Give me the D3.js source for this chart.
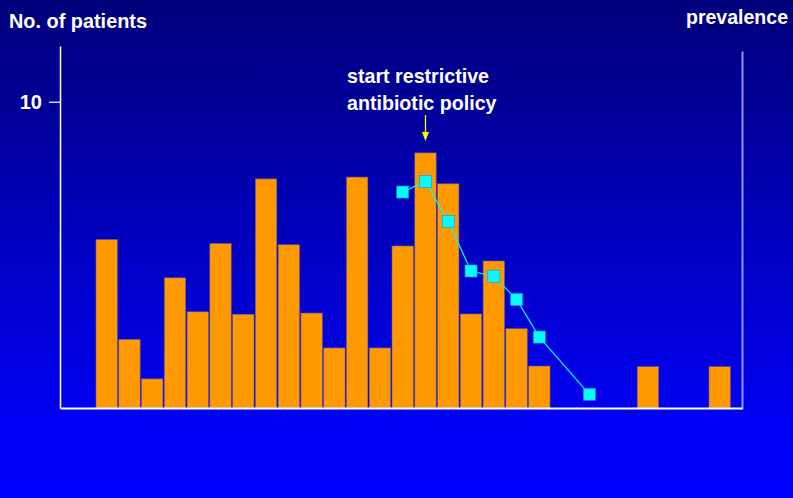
<!DOCTYPE html>
<html>
<head>
<meta charset="utf-8">
<script src="https://cdn.jsdelivr.net/npm/d3@7"></script>
<style>
  html, body { margin: 0; padding: 0; background: #0000ff; }
  svg { display: block; font-family: "Liberation Sans", Arial, sans-serif; font-weight: bold; }
</style>
</head>
<body>
<div id="chart"></div>
<script>
// bar periods (months) and patient counts
const barPeriods = [0, 1, 2, 3, 4, 5, 6, 7, 8, 9, 10, 11, 12, 13, 14, 15, 16, 17, 18, 19, 23.77, 26.92];
const patients = [5.5, 2.24, 0.95, 4.25, 3.14, 5.37, 3.06, 7.48, 5.33, 3.1, 1.96, 7.54, 1.96, 5.29, 8.33, 7.32, 3.07, 4.8, 2.59, 1.37, 1.35, 1.35];

// prevalence line
const prevPeriods = [13, 14, 15, 16, 17, 18, 19, 21.2];
const prevalence = [7.09, 7.44, 6.13, 4.51, 4.34, 3.58, 2.35, 0.48];

const yTicks = [10];
const policyPeriod = 14;

const W = 793, H = 498;
const svg = d3.select("#chart").append("svg")
    .attr("width", W)
    .attr("height", H);

// background gradient
const grad = svg.append("defs").append("linearGradient")
    .attr("id", "bg").attr("x1", 0).attr("y1", 0).attr("x2", 0).attr("y2", 1);
grad.append("stop").attr("offset", "0%").attr("stop-color", "#00007a");
grad.append("stop").attr("offset", "85%").attr("stop-color", "#0000f4");
grad.append("stop").attr("offset", "100%").attr("stop-color", "#0000ff");
svg.append("rect").attr("width", W).attr("height", H).attr("fill", "url(#bg)");

const x = d3.scaleLinear().domain([-2.05, 27.9]).range([60, 742]);
const y = d3.scaleLinear().domain([0, 11.82]).range([408, 46]);
const y2 = d3.scaleLinear().domain([0, 11.7]).range([409, 51]);

const barW = x(1) - x(0) - 1.4;

// bars
svg.selectAll(".bar")
    .data(patients)
    .enter().append("rect")
    .attr("x", (d, i) => x(barPeriods[i]) - barW / 2)
    .attr("y", d => y(d))
    .attr("width", barW)
    .attr("height", d => y(0) - y(d))
    .attr("fill", "#ff9900")
    .attr("stroke", "#7a5a8a")
    .attr("stroke-width", 0.6);

// axes
const gLeft = svg.append("g")
    .attr("transform", "translate(60,0)")
    .call(d3.axisLeft(y).tickValues(yTicks).tickSize(11).tickSizeOuter(0).tickPadding(7).tickFormat(d3.format("d")));
gLeft.select(".domain").attr("stroke", "#fff").attr("stroke-width", 1.5);
gLeft.selectAll(".tick line").attr("stroke", "#fff").attr("stroke-width", 1.2);
gLeft.selectAll(".tick text")
    .attr("fill", "#fff")
    .style("font-size", "20px")
    .style("font-family", "'Liberation Sans', Arial, sans-serif")
    .style("font-weight", "bold")
    .attr("dy", "0.36em");

const gRight = svg.append("g")
    .attr("transform", "translate(742,0)")
    .call(d3.axisRight(y2).tickValues([]).tickSizeOuter(0));
gRight.select(".domain").attr("stroke", "#8f8fff").attr("stroke-width", 2);

const gBottom = svg.append("g")
    .attr("transform", `translate(0,${y(0)})`)
    .call(d3.axisBottom(x).tickValues([]).tickSizeOuter(0));
gBottom.select(".domain").attr("stroke", "#fff").attr("stroke-width", 1.8);

// prevalence line + markers
const line = d3.line()
    .x((d, i) => x(prevPeriods[i]))
    .y(d => y2(d));
svg.append("path")
    .datum(prevalence)
    .attr("d", line)
    .attr("fill", "none")
    .attr("stroke", "#00ffff")
    .attr("stroke-width", 1.2);

svg.selectAll(".mark")
    .data(prevalence)
    .enter().append("rect")
    .attr("x", (d, i) => x(prevPeriods[i]) - 6)
    .attr("y", d => y2(d) - 6)
    .attr("width", 12)
    .attr("height", 12)
    .attr("fill", "#00ffff")
    .attr("stroke", "#1a8cff")
    .attr("stroke-width", 0.6);

// annotation arrow
const ax = x(policyPeriod);
svg.append("line")
    .attr("x1", ax).attr("x2", ax)
    .attr("y1", 115).attr("y2", 133)
    .attr("stroke", "#ffff00").attr("stroke-width", 1.3);
svg.append("path")
    .attr("d", `M${ax - 3.5},132 L${ax + 3.5},132 L${ax},141 Z`)
    .attr("fill", "#ffff00");

// texts
svg.append("text")
    .attr("x", 9).attr("y", 27.5)
    .attr("fill", "#fff").attr("font-size", 21)
    .attr("textLength", 138).attr("lengthAdjust", "spacingAndGlyphs")
    .text("No. of patients");

svg.append("text")
    .attr("x", 686).attr("y", 24)
    .attr("fill", "#fff").attr("font-size", 20)
    .attr("textLength", 102).attr("lengthAdjust", "spacingAndGlyphs")
    .text("prevalence");

svg.append("text")
    .attr("x", 347).attr("y", 82.5)
    .attr("fill", "#fff").attr("font-size", 20.5)
    .attr("textLength", 142).attr("lengthAdjust", "spacingAndGlyphs")
    .text("start restrictive");

svg.append("text")
    .attr("x", 347).attr("y", 110)
    .attr("fill", "#fff").attr("font-size", 20.5)
    .attr("textLength", 149.5).attr("lengthAdjust", "spacingAndGlyphs")
    .text("antibiotic policy");
</script>
</body>
</html>
